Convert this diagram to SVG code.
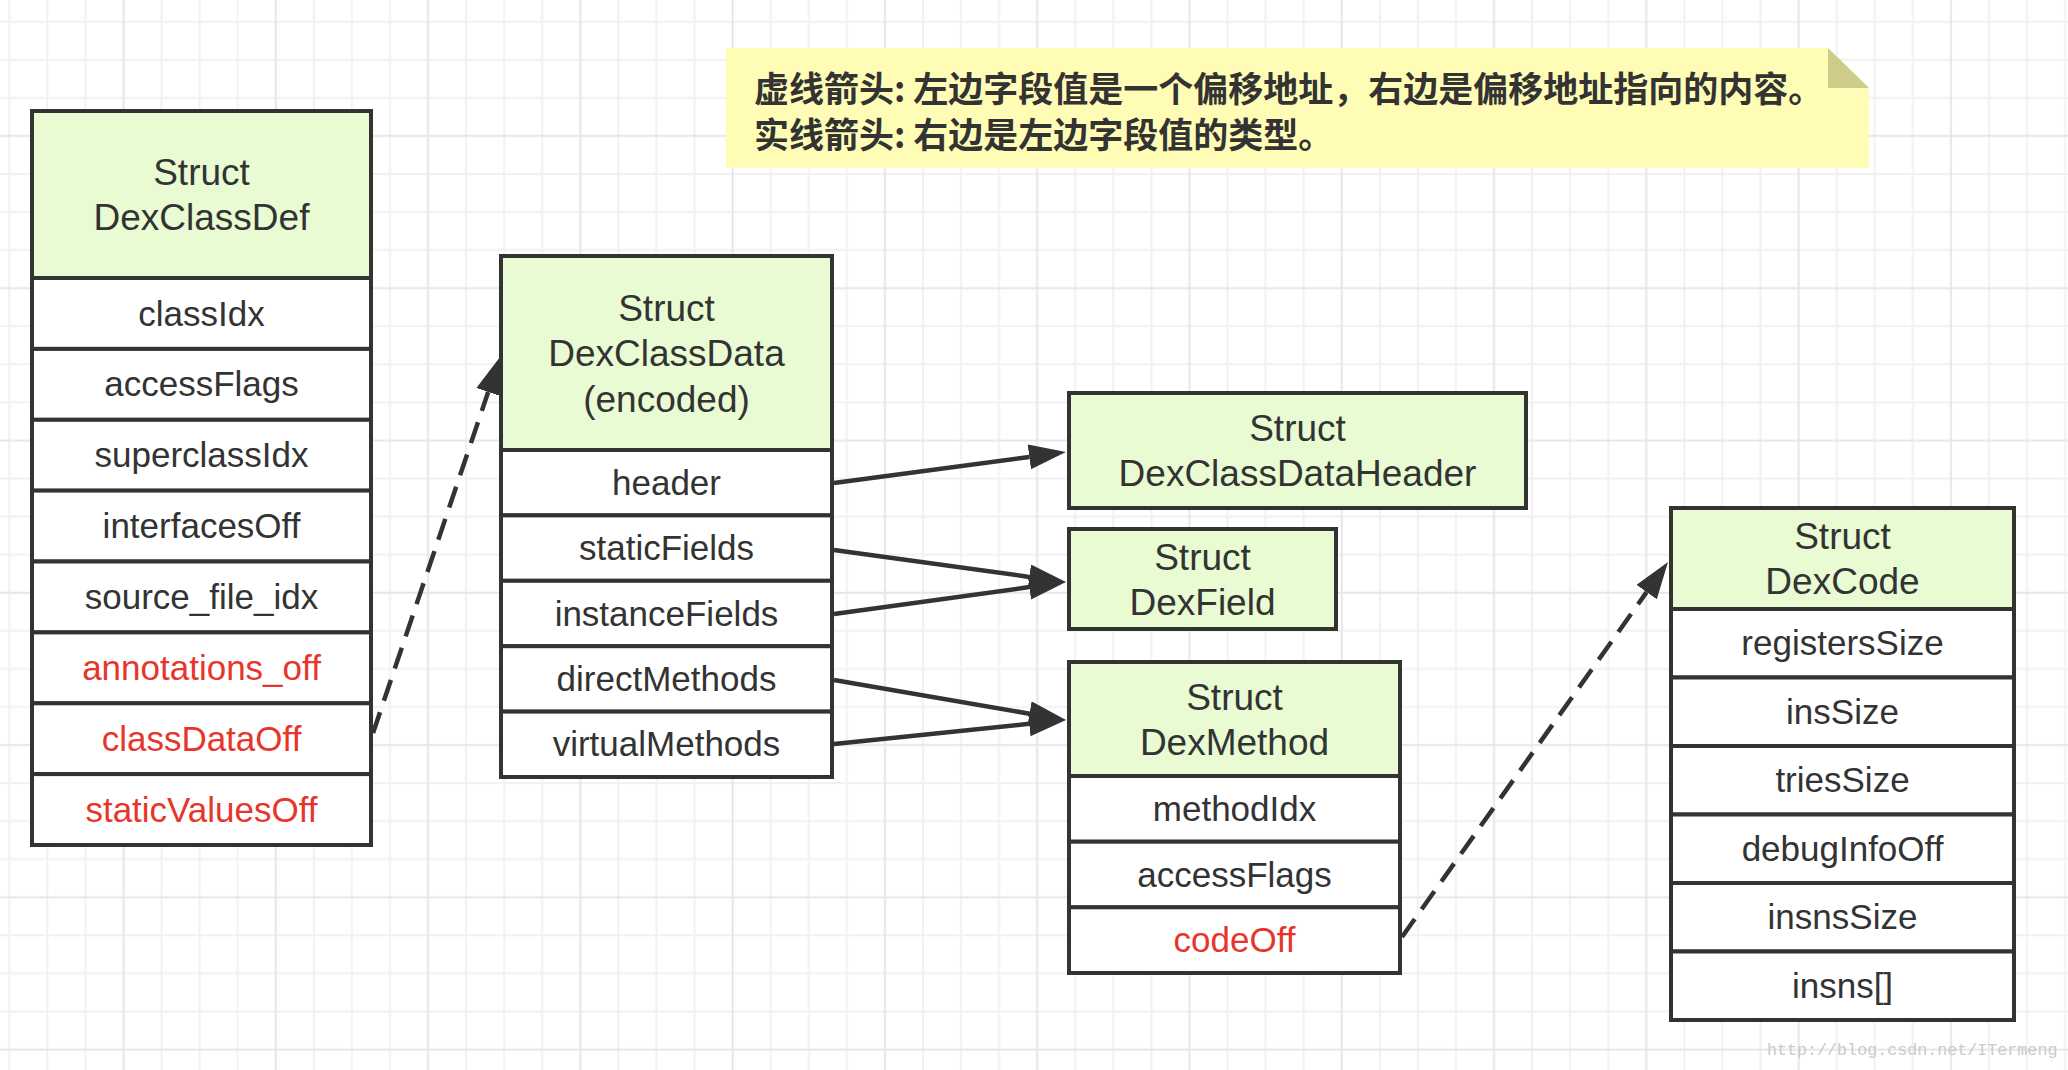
<svg xmlns="http://www.w3.org/2000/svg" width="2068" height="1070" viewBox="0 0 2068 1070">
<style>
.hd{fill:#e8fbd2;stroke:#333;stroke-width:4}
.rw{fill:#fff;stroke:#333;stroke-width:4}
.t{font-family:"Liberation Sans",Arial,sans-serif;font-size:35px;fill:#333;text-anchor:middle}
.th{font-family:"Liberation Sans",Arial,sans-serif;font-size:37px;fill:#333;text-anchor:middle}
.red{fill:#e8352b}
.note{font-family:"Noto Sans CJK SC",sans-serif;font-size:35px;font-weight:bold;fill:#333}
.solid{stroke:#333;stroke-width:4.5;fill:none}
.dash{stroke:#333;stroke-width:4.5;fill:none;stroke-dasharray:22 12}
</style>
<defs>
<pattern id="grid" patternUnits="userSpaceOnUse" x="8.3" y="20.7" width="152.28" height="152.28">
<rect x="0" y="0" width="2" height="152.28" fill="#f1f1f1"/>
<rect x="38.07" y="0" width="2" height="152.28" fill="#f1f1f1"/>
<rect x="76.14" y="0" width="2" height="152.28" fill="#f1f1f1"/>
<rect x="0" y="0" width="152.28" height="2" fill="#f1f1f1"/>
<rect x="0" y="38.07" width="152.28" height="2" fill="#f1f1f1"/>
<rect x="0" y="76.14" width="152.28" height="2" fill="#f1f1f1"/>
<rect x="114.21" y="0" width="2" height="152.28" fill="#e6e6e6"/>
<rect x="0" y="114.21" width="152.28" height="2" fill="#e6e6e6"/>
</pattern>
<marker id="ah" markerUnits="userSpaceOnUse" markerWidth="38" markerHeight="26" refX="0" refY="12.5" orient="auto" viewBox="0 0 38 26">
<path d="M0,0 L37,12.5 L0,25 Z" fill="#333"/>
</marker>
</defs>
<rect x="0" y="0" width="2068" height="1070" fill="#fff"/>
<rect x="0" y="0" width="2068" height="1070" fill="url(#grid)"/>

<g id="note">
<path d="M726,48 H1828 L1869,88 V168 H726 Z" fill="#fffcb6"/>
<path d="M1828,48 L1869,88 H1828 Z" fill="#cdcd8a"/>
<text class="note" x="754" y="102">虚线箭头: 左边字段值是一个偏移地址，右边是偏移地址指向的内容。</text>
<text class="note" x="754" y="148">实线箭头: 右边是左边字段值的类型。</text>
</g>

<g id="DexClassDef">
<rect class="hd" x="32" y="111" width="339" height="167"/>
<rect class="rw" x="32" y="278" width="339" height="70.9"/>
<rect class="rw" x="32" y="348.9" width="339" height="70.9"/>
<rect class="rw" x="32" y="419.8" width="339" height="70.9"/>
<rect class="rw" x="32" y="490.6" width="339" height="70.9"/>
<rect class="rw" x="32" y="561.5" width="339" height="70.9"/>
<rect class="rw" x="32" y="632.4" width="339" height="70.9"/>
<rect class="rw" x="32" y="703.3" width="339" height="70.9"/>
<rect class="rw" x="32" y="774.1" width="339" height="70.9"/>
<text class="th" x="201.5" y="184.5">Struct</text>
<text class="th" x="201.5" y="229.5">DexClassDef</text>
<text class="t" x="201.5" y="325.5">classIdx</text>
<text class="t" x="201.5" y="396.3">accessFlags</text>
<text class="t" x="201.5" y="467.2">superclassIdx</text>
<text class="t" x="201.5" y="538.1">interfacesOff</text>
<text class="t" x="201.5" y="609">source_file_idx</text>
<text class="t red" x="201.5" y="679.8">annotations_off</text>
<text class="t red" x="201.5" y="750.7">classDataOff</text>
<text class="t red" x="201.5" y="821.6">staticValuesOff</text>
</g>

<g id="DexClassData">
<rect class="hd" x="501" y="256" width="331" height="194"/>
<rect class="rw" x="501" y="450" width="331" height="65.4"/>
<rect class="rw" x="501" y="515.4" width="331" height="65.4"/>
<rect class="rw" x="501" y="580.8" width="331" height="65.4"/>
<rect class="rw" x="501" y="646.2" width="331" height="65.4"/>
<rect class="rw" x="501" y="711.6" width="331" height="65.4"/>
<text class="th" x="666.5" y="320.5">Struct</text>
<text class="th" x="666.5" y="366">DexClassData</text>
<text class="th" x="666.5" y="411.5">(encoded)</text>
<text class="t" x="666.5" y="494.7">header</text>
<text class="t" x="666.5" y="560.1">staticFields</text>
<text class="t" x="666.5" y="625.5">instanceFields</text>
<text class="t" x="666.5" y="690.9">directMethods</text>
<text class="t" x="666.5" y="756.3">virtualMethods</text>
</g>

<g id="DexClassDataHeader">
<rect class="hd" x="1069" y="393" width="457" height="115"/>
<text class="th" x="1297.5" y="441">Struct</text>
<text class="th" x="1297.5" y="486">DexClassDataHeader</text>
</g>

<g id="DexField">
<rect class="hd" x="1069" y="529" width="267" height="100"/>
<text class="th" x="1202.5" y="569.5">Struct</text>
<text class="th" x="1202.5" y="614.5">DexField</text>
</g>

<g id="DexMethod">
<rect class="hd" x="1069" y="662" width="331" height="114"/>
<rect class="rw" x="1069" y="776" width="331" height="65.7"/>
<rect class="rw" x="1069" y="841.7" width="331" height="65.7"/>
<rect class="rw" x="1069" y="907.3" width="331" height="65.7"/>
<text class="th" x="1234.5" y="709.5">Struct</text>
<text class="th" x="1234.5" y="754.5">DexMethod</text>
<text class="t" x="1234.5" y="820.8">methodIdx</text>
<text class="t" x="1234.5" y="886.5">accessFlags</text>
<text class="t red" x="1234.5" y="952.2">codeOff</text>
</g>

<g id="DexCode">
<rect class="hd" x="1671" y="508" width="343" height="101"/>
<rect class="rw" x="1671" y="609" width="343" height="68.5"/>
<rect class="rw" x="1671" y="677.5" width="343" height="68.5"/>
<rect class="rw" x="1671" y="746" width="343" height="68.5"/>
<rect class="rw" x="1671" y="814.5" width="343" height="68.5"/>
<rect class="rw" x="1671" y="883" width="343" height="68.5"/>
<rect class="rw" x="1671" y="951.5" width="343" height="68.5"/>
<text class="th" x="1842.5" y="549">Struct</text>
<text class="th" x="1842.5" y="594">DexCode</text>
<text class="t" x="1842.5" y="655.3">registersSize</text>
<text class="t" x="1842.5" y="723.8">insSize</text>
<text class="t" x="1842.5" y="792.3">triesSize</text>
<text class="t" x="1842.5" y="860.8">debugInfoOff</text>
<text class="t" x="1842.5" y="929.3">insnsSize</text>
<text class="t" x="1842.5" y="997.8">insns[]</text>
</g>

<g id="connectors">
<line class="dash" x1="373" y1="733" x2="488.2" y2="392" marker-end="url(#ah)"/>
<line class="dash" x1="1402" y1="937" x2="1646.6" y2="592.1" marker-end="url(#ah)"/>
<line class="solid" x1="834" y1="483" x2="1029.3" y2="456.9" marker-end="url(#ah)"/>
<line class="solid" x1="834" y1="550" x2="1029.3" y2="576.9" marker-end="url(#ah)"/>
<line class="solid" x1="834" y1="614" x2="1029.3" y2="587.1" marker-end="url(#ah)"/>
<line class="solid" x1="834" y1="680" x2="1029.5" y2="713.7" marker-end="url(#ah)"/>
<line class="solid" x1="834" y1="744" x2="1029.2" y2="723.8" marker-end="url(#ah)"/>
</g>

<text x="1767" y="1055" font-family="'Liberation Mono','Courier New',monospace" font-size="16.7" fill="#cacaca">http://blog.csdn.net/ITermeng</text>
</svg>
